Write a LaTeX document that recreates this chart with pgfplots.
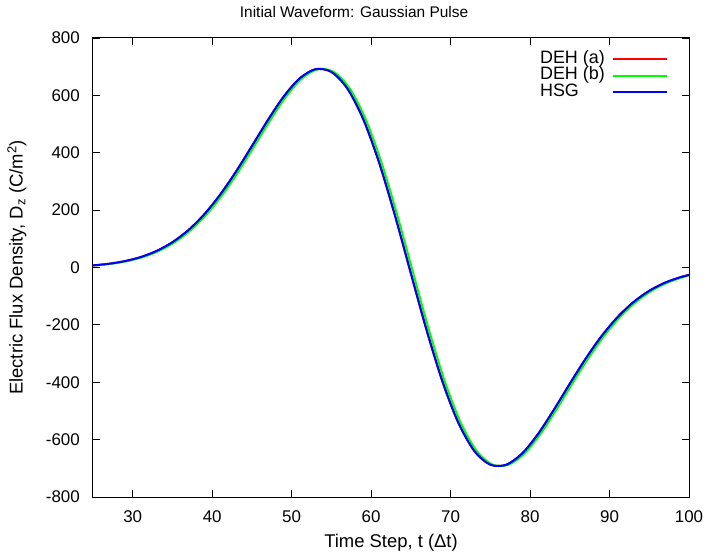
\documentclass[border=0pt]{standalone}
\usepackage{pgfplots}
\pgfplotsset{compat=1.18}
\usepackage{fontspec}
\setmainfont{Liberation Sans}
\definecolor{gred}{RGB}{255,0,0}
\definecolor{ggreen}{RGB}{0,255,0}
\definecolor{gblue}{RGB}{0,0,255}
\begin{document}
\begin{tikzpicture}
\begin{axis}[
  name=ax,
  scale only axis,
  width=596bp, height=459bp,
  xmin=25, xmax=100, ymin=-800, ymax=800,
  xtick={30,40,...,100},
  ytick={-800,-600,...,800},
  yticklabels={-800,-600,-400,-200,0,200,400,600,800},
  xticklabels={30,40,50,60,70,80,90,100},
  tick align=inside,
  tick pos=both,
  major tick length=7bp,
  tick style={black, line width=0.8bp},
  axis line style={line width=1bp},
  ticklabel style={font=\fontsize{17}{19}\selectfont},
  xticklabel style={anchor=center, yshift=-20bp, inner sep=0pt},
  yticklabel style={anchor=east, xshift=-13bp, inner sep=0pt},
  title={Initial Waveform: Gaussian Pulse},
  title style={at={(axis description cs:0.438,1.0566)}, anchor=center, inner sep=0pt, yshift=-6bp, font=\fontsize{15.5}{17}\selectfont},
  xlabel={Time Step, t (Δt)},
  xlabel style={at={(axis description cs:0.5,-0.1002)}, anchor=center, font=\fontsize{18.5}{21}\selectfont},
  ylabel={Electric Flux Density, D\textsubscript{z} (C/m\textsuperscript{2})},
  ylabel style={at={(axis description cs:-0.1275,0.5)}, anchor=center, font=\fontsize{18.5}{21}\selectfont},
  legend plot pos=right,
  legend cell align=left,
  legend image code/.code={\draw[#1, line width=2bp] (0bp,0bp) -- (54bp,0bp);},
  legend style={at={(axis description cs:0.9648,0.9725)}, anchor=north east, draw=none, fill=none,
    font=\fontsize{18}{20}\selectfont, row sep=0bp, column sep=6.5bp, inner sep=0pt,
    nodes={inner sep=0.5bp, text height=12bp, text depth=3.5bp}},
]
\addplot[gred, line width=2bp, smooth] coordinates {
(25,7.35)(27,12.95)(29,22.1)(31,36.3)(33,57.6)(35,88.2)(37,130.2)(39,185.3)(41,253.9)(43,334.5)(45,423.3)(47,513.5)(49,595.9)(51,659.0)(53,691.1)(55,681.8)(57,624.3)(59,517.5)(61,366.0)(63,181.3)(65,-20.4)(67,-220.1)(69,-399.4)(71,-542.6)(73,-639.8)(75,-687.3)(77,-687.6)(79,-648.5)(81,-580.6)(83,-495.8)(85,-405.2)(87,-317.6)(89,-239.1)(91,-173.3)(93,-120.9)(95,-81.2)(97,-52.7)(99,-33.0)};
\addlegendentry{DEH (a)}
\addplot[ggreen, line width=2bp, smooth] coordinates {
(25.3,7.35)(27.3,12.95)(29.3,22.1)(31.3,36.3)(33.3,57.6)(35.3,88.2)(37.3,130.2)(39.3,185.3)(41.3,253.9)(43.3,334.5)(45.3,423.3)(47.3,513.5)(49.3,595.9)(51.3,659.0)(53.3,691.1)(55.3,681.8)(57.3,624.3)(59.3,517.5)(61.3,366.0)(63.3,181.3)(65.3,-20.4)(67.3,-220.1)(69.3,-399.4)(71.3,-542.6)(73.3,-639.8)(75.3,-687.3)(77.3,-687.6)(79.3,-648.5)(81.3,-580.6)(83.3,-495.8)(85.3,-405.2)(87.3,-317.6)(89.3,-239.1)(91.3,-173.3)(93.3,-120.9)(95.3,-81.2)(97.3,-52.7)(99.3,-33.0)(100,-28.0)};
\addlegendentry{DEH (b)}
\addplot[gblue, line width=2bp, smooth] coordinates {
(25,7.35)(27,12.95)(29,22.1)(31,36.3)(33,57.6)(35,88.2)(37,130.2)(39,185.3)(41,253.9)(43,334.5)(45,423.3)(47,513.5)(49,595.9)(51,659.0)(53,691.1)(55,681.8)(57,624.3)(59,517.5)(61,366.0)(63,181.3)(65,-20.4)(67,-220.1)(69,-399.4)(71,-542.6)(73,-639.8)(75,-687.3)(77,-687.6)(79,-648.5)(81,-580.6)(83,-495.8)(85,-405.2)(87,-317.6)(89,-239.1)(91,-173.3)(93,-120.9)(95,-81.2)(97,-52.7)(99,-33.0)};
\addlegendentry{HSG}
\addplot[gred, line width=2bp, forget plot] coordinates {(99,-33.0)(100,-25.7)};
\addplot[gblue, line width=2bp, forget plot] coordinates {(99,-33.0)(100,-25.7)};
\end{axis}
\pgfresetboundingbox
\path ([xshift=-93bp,yshift=-57bp]ax.south west) rectangle ([xshift=19bp,yshift=38bp]ax.north east);
\end{tikzpicture}
\end{document}
